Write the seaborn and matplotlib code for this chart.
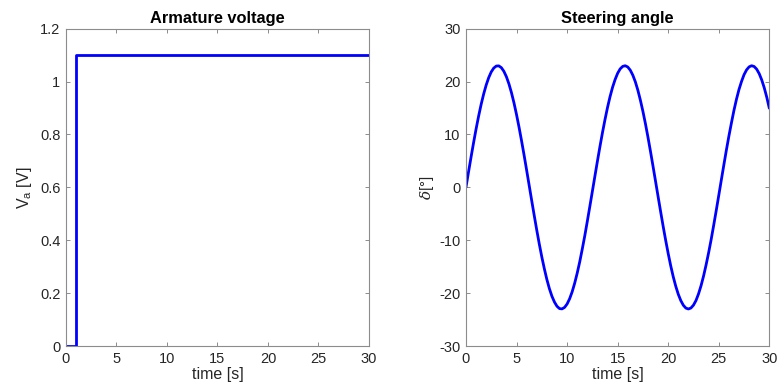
import numpy as np
import pandas as pd
import matplotlib
matplotlib.use("Agg")
import matplotlib.pyplot as plt
import seaborn as sns

# Armature voltage (step)
va_time = [0, 1, 1, 30]
va_volt = [0, 0, 1.1, 1.1]

# Steering angle, read every 0.25 s
sa_time = [i * 0.25 for i in range(121)]
sa_angle = [0.00, 2.87, 5.69, 8.42, 11.03, 13.46, 15.68, 17.65, 19.35, 20.75,
            21.83, 22.56, 22.94, 22.97, 22.63, 21.94, 20.91, 19.56, 17.90, 15.96,
            13.76, 11.36, 8.78, 6.07, 3.25, 0.38, -2.49, -5.31, -8.07, -10.70,
            -13.15, -15.38, -17.41, -19.15, -20.58, -21.68, -22.48, -22.92, -22.98, -22.70,
            -22.06, -21.07, -19.76, -18.13, -16.23, -14.09, -11.69, -9.16, -6.43, -3.61,
            -0.76, 2.10, 4.95, 7.71, 10.35, 12.82, 15.11, 17.16, 18.93, 20.39,
            21.57, 22.40, 22.87, 23.00, 22.76, 22.16, 21.22, 19.96, 18.37, 16.48,
            14.37, 12.02, 9.48, 6.78, 3.99, 1.14, -1.73, -4.57, -7.35, -10.00,
            -12.51, -14.83, -16.91, -18.71, -20.23, -21.42, -22.30, -22.83, -23.00, -22.81,
            -22.27, -21.39, -20.14, -18.59, -16.75, -14.64, -12.34, -9.85, -7.16, -4.39,
            -1.53, 1.35, 4.20, 7.00, 9.66, 12.15, 14.53, 16.64, 18.49, 20.01,
            21.30, 22.21, 22.78, 23.00, 22.85, 22.35, 21.50, 20.32, 18.82, 17.03,
            14.96]

x_ticks = [0, 5, 10, 15, 20, 25, 30]
va_yticks = [0, 0.2, 0.4, 0.6, 0.8, 1, 1.2]
va_yticklabels = ["0", "0.2", "0.4", "0.6", "0.8", "1", "1.2"]
sa_yticks = [-30, -20, -10, 0, 10, 20, 30]

sns.set_theme(style="white")
plt.rcParams['font.family'] = ['Liberation Sans', 'DejaVu Sans']
plt.rcParams['mathtext.fontset'] = 'custom'
plt.rcParams['mathtext.rm'] = 'Liberation Sans'
plt.rcParams['mathtext.it'] = 'DejaVu Serif:italic'

fig = plt.figure(figsize=(7.77, 3.92), dpi=100)
ax1 = fig.add_axes([0.0849, 0.1173, 0.390, 0.8095])
ax2 = fig.add_axes([0.5997, 0.1173, 0.3904, 0.8095])

df1 = pd.DataFrame({"t": va_time, "v": va_volt})
df2 = pd.DataFrame({"t": sa_time, "d": sa_angle})

sns.lineplot(data=df1, x="t", y="v", ax=ax1, color="#0000ff", lw=2.0,
             estimator=None, sort=False)
sns.lineplot(data=df2, x="t", y="d", ax=ax2, color="#0000ff", lw=2.0,
             estimator=None, sort=False)

tick_col = "#262626"
spine_col = "#8c8c8c"
for ax in (ax1, ax2):
    ax.set_xlim(0, 30)
    ax.set_xticks(x_ticks)
    ax.set_xticklabels([str(v) for v in x_ticks])
    ax.tick_params(direction="in", length=3, width=0.7, color=spine_col,
                   labelcolor=tick_col, labelsize=10.5, top=True, right=True,
                   bottom=True, left=True, pad=4)
    for s in ax.spines.values():
        s.set_color(spine_col)
        s.set_linewidth(0.8)
        s.set_visible(True)
    ax.set_xlabel("time [s]", fontsize=11.5, color=tick_col, labelpad=1)

ax1.set_ylim(0, 1.2)
ax1.set_yticks(va_yticks)
ax1.set_yticklabels(va_yticklabels)
ax1.set_ylabel("V$_\\mathregular{a}$ [V]", fontsize=11.5, color=tick_col, labelpad=4)
ax1.set_title("Armature voltage", fontsize=11.8, fontweight="bold", color="black", pad=4)

ax2.set_ylim(-30, 30)
ax2.set_yticks(sa_yticks)
ax2.set_yticklabels([str(v) for v in sa_yticks])
ax2.set_ylabel("$\\mathit{\\delta}$[°]", fontsize=11, color=tick_col, labelpad=2)
ax2.set_title("Steering angle", fontsize=11.8, fontweight="bold", color="black", pad=4)

fig.savefig("out.png", dpi=100)
